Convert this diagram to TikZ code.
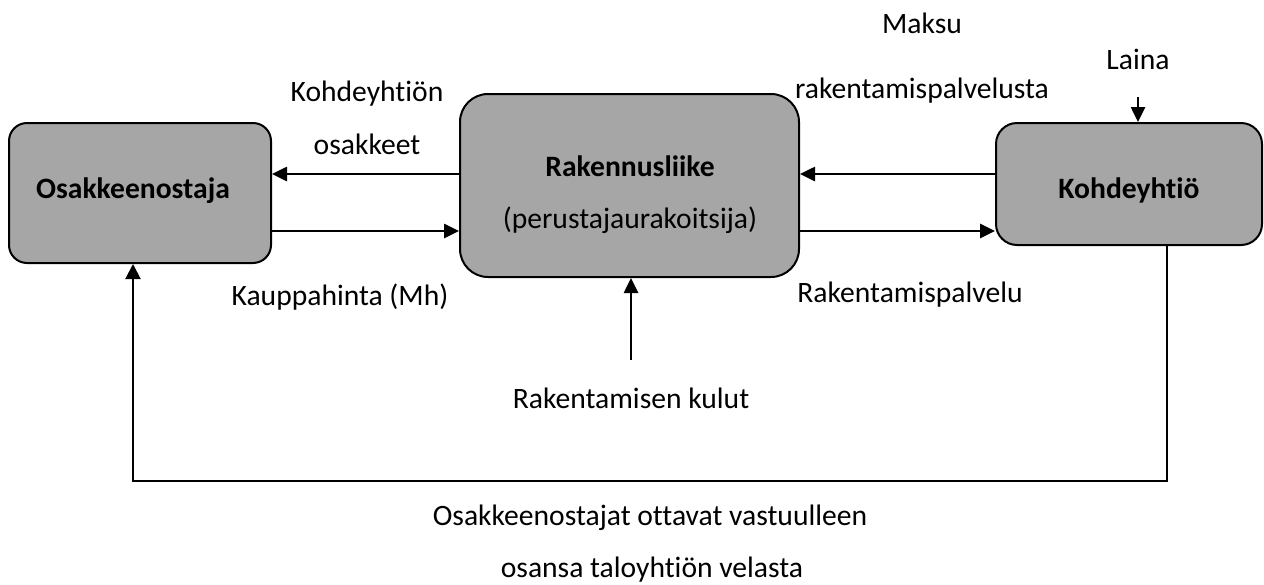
\documentclass[tikz,border=0pt]{standalone}
\usepackage{fontspec}
\setmainfont{Carlito}[Ligatures=NoCommon]
\usetikzlibrary{arrows.meta}
\begin{document}
\begin{tikzpicture}[x=1pt,y=-1pt,
  box/.style={draw=black, line width=2pt, fill=boxgray, inner sep=0pt},
  lbl/.style={inner sep=0pt, font=\fontsize{29.6}{36}\selectfont},
  blbl/.style={inner sep=0pt, font=\fontsize{29.6}{36}\selectfont\bfseries},
  arr/.style={line width=2.6pt, -{Triangle[length=15pt,width=14pt]}},
  arrthin/.style={line width=2pt, -{Triangle[length=15pt,width=15pt]}}]
\definecolor{boxgray}{HTML}{A6A6A6}
\useasboundingbox (0,0) rectangle (1264,584);
% boxes
\node[box, minimum width=262pt, minimum height=140pt, rounded corners=18pt] (osa) at (140,193) {};
\node[box, minimum width=339pt, minimum height=183pt, rounded corners=28pt] (rak) at (629.5,185.5) {};
\node[box, minimum width=266pt, minimum height=122pt, rounded corners=21pt] (koh) at (1129,184) {};
% box texts
\node[blbl] (osat) at (133,191) {Osakkeenostaja};
\node[blbl] (rakt) at (630,166) {Rakennusliike};
\node[lbl] (rakt2) at (630,220) {(perustajaurakoitsija)};
\node[blbl] (koht) at (1129,190) {Kohdeyhtiö};
% labels
\node[lbl] (l1a) at (367,94) {Kohdeyhtiön};
\node[lbl] (l1b) at (367,144) {osakkeet};
\node[lbl] (l2) at (340,297) {Kauppahinta (Mh)};
\node[lbl] (l3a) at (922,23) {Maksu};
\node[lbl] (l3b) at (922,91) {rakentamispalvelusta};
\node[lbl] (l4) at (910,295) {Rakentamispalvelu};
\node[lbl] (l5) at (1138,59) {Laina};
\node[lbl] (l6) at (631,398) {Rakentamisen kulut};
\node[lbl] (l7a) at (650,518) {Osakkeenostajat ottavat vastuulleen};
\node[lbl] (l7b) at (652,570) {osansa taloyhtiön velasta};
% helper coordinates
\coordinate (yup) at (0,174);
\coordinate (ydn) at (0,231);
\coordinate (lainastart) at (1138,97);
\coordinate (kulstart) at (631,360);
\coordinate (bl) at (133,481);
\coordinate (br) at (1167,481);
% connectors
\draw[arr] (rak.west |- yup) -- (osa.east |- yup);
\draw[arr] (osa.east |- ydn) -- (rak.west |- ydn);
\draw[arr] (koh.west |- yup) -- (rak.east |- yup);
\draw[arr] (rak.east |- ydn) -- (koh.west |- ydn);
\draw[arr] (lainastart) -- (koh.north -| lainastart);
\draw[arr] (kulstart) -- (rak.south -| kulstart);
\draw[arrthin] (koh.south -| br) -- (br) -- (bl) -- (osa.south -| bl);
\end{tikzpicture}
\end{document}
